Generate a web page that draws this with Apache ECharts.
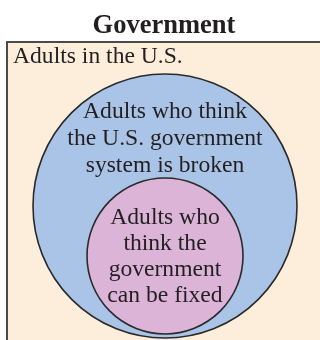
<!DOCTYPE html>
<html><head><meta charset="utf-8">
<script src="https://cdn.jsdelivr.net/npm/echarts@6/dist/echarts.min.js"></script>
<style>html,body{margin:0;padding:0;background:#fff}#c{width:320px;height:340px}</style>
</head><body><div id="c"></div>
<script>
// ---- data ----
const titleText = 'Government';
const universeName = 'Adults in the U.S.';
const setNames = ['Adults who think\nthe U.S. government\nsystem is broken', 'Adults who\nthink the\ngovernment\ncan be fixed'];
// universe extent in diagram units [x0, y0, x1, y1]
const universe = [0, 0, 330, 310];
// nested sets in diagram units [cx, cy, r]
const setBroken = [158, 164, 132];
const setFixable = [158, 214, 78];

// ---- styles ----
const fills = ['#aac4e7', '#dbb4d7'];
const textOffsets = [-67, 1];
const lineHeights = [27, 26];
const serif = '"Liberation Serif", "Times New Roman", serif';
const ink = '#231f20';

const chart = echarts.init(document.getElementById('c'), null, {renderer: 'canvas'});
chart.setOption({
  backgroundColor: '#ffffff',
  animation: false,
  title: {
    text: titleText, left: 159, textAlign: 'center', top: 8,
    textStyle: {fontFamily: serif, fontWeight: 'bold', fontSize: 26.5, color: ink}
  },
  grid: {left: 7, top: 42, width: 313, height: 298},
  xAxis: {type: 'value', min: 0, max: 313, show: false},
  yAxis: {type: 'value', min: 0, max: 298, inverse: true, show: false},
  series: [
    {
      type: 'custom', clip: false,
      data: [universe],
      renderItem(params, api) {
        const p0 = api.coord([api.value(0), api.value(1)]);
        const p1 = api.coord([api.value(2), api.value(3)]);
        const lbl = api.coord([6, 15]);
        return {type: 'group', children: [
          {type: 'rect', shape: {x: p0[0], y: p0[1], width: p1[0] - p0[0], height: p1[1] - p0[1]},
           style: {fill: '#fdeedc', stroke: '#4a4a4a', lineWidth: 2}},
          {type: 'text', x: lbl[0], y: lbl[1],
           style: {text: universeName, font: '23.6px ' + serif, fill: ink, align: 'left', verticalAlign: 'middle'}}
        ]};
      }
    },
    {
      type: 'custom', clip: false,
      data: [setBroken, setFixable],
      renderItem(params, api) {
        const i = params.dataIndex;
        const c = api.coord([api.value(0), api.value(1)]);
        const r = api.size([api.value(2), 0])[0];
        return {type: 'group', children: [
          {type: 'circle', shape: {cx: c[0], cy: c[1], r: r},
           style: {fill: fills[i], stroke: '#2a2a2a', lineWidth: 1.6}},
          {type: 'text', x: c[0], y: c[1] + textOffsets[i],
           style: {text: setNames[i], font: '23.6px ' + serif, lineHeight: lineHeights[i],
                   fill: ink, align: 'center', verticalAlign: 'middle'}}
        ]};
      }
    }
  ]
});
</script></body></html>
